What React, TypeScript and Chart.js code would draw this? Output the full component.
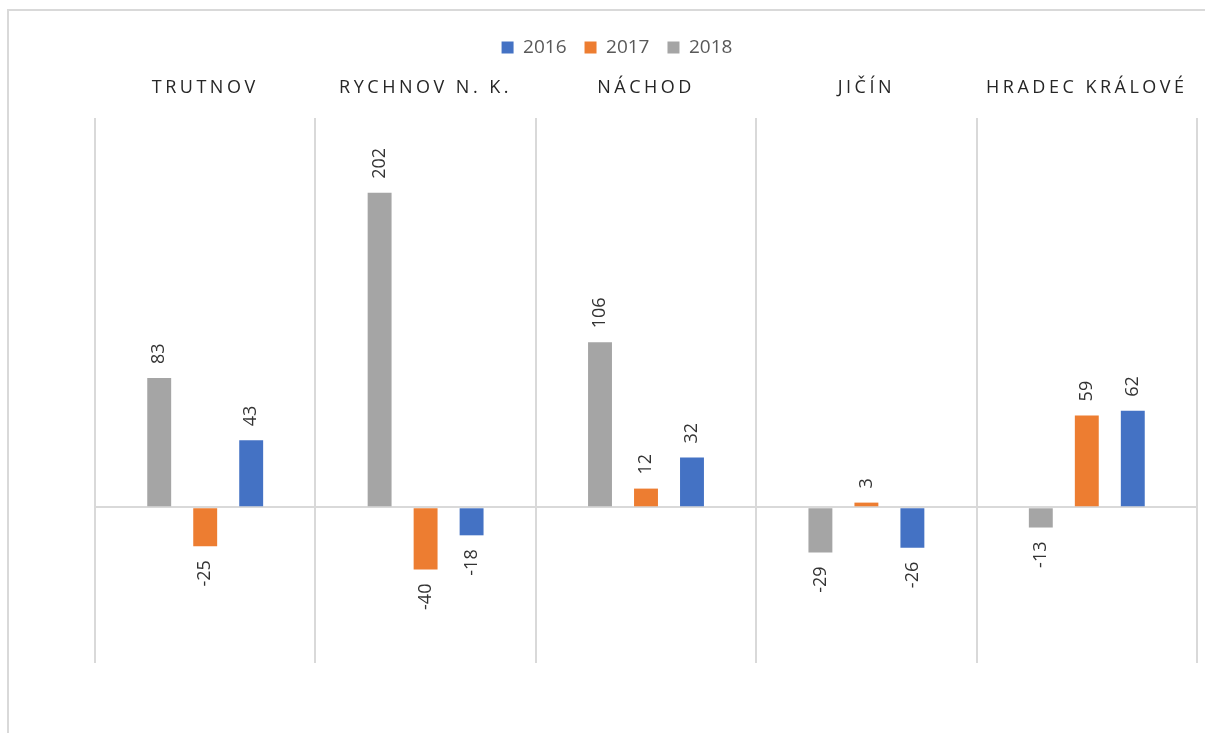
import React, { useEffect, useRef } from "react";
import { Chart, registerables } from "chart.js";

Chart.register(...registerables);

const categories = ["TRUTNOV", "RYCHNOV N. K.", "NÁCHOD", "JIČÍN", "HRADEC KRÁLOVÉ"];
const values2018 = [83, 202, 106, -29, -13];
const values2017 = [-25, -40, 12, 3, 59];
const values2016 = [43, -18, 32, -26, 62];
const yTicksMin = -100;
const yTicksMax = 250;

const FONT = "'Open Sans', 'DejaVu Sans', sans-serif";

const labelPlugin = {
  id: "customLabels",
  afterDatasetsDraw(chart: any) {
    const ctx = chart.ctx;
    ctx.save();
    ctx.font = `18px ${FONT}`;
    ctx.fillStyle = "#333333";
    ctx.textBaseline = "middle";
    chart.data.datasets.forEach((ds: any, di: number) => {
      const meta = chart.getDatasetMeta(di);
      meta.data.forEach((bar: any, i: number) => {
        const v = ds.data[i];
        const p = bar.getProps(["x", "y", "base"], true);
        ctx.save();
        ctx.translate(p.x, p.y);
        ctx.rotate(-Math.PI / 2);
        if (v >= 0) {
          ctx.textAlign = "left";
          ctx.fillText(String(v), 14, 0);
        } else {
          ctx.textAlign = "right";
          ctx.fillText(String(v), -14, 0);
        }
        ctx.restore();
      });
    });
    ctx.restore();
  },
  afterDraw(chart: any) {
    const ctx = chart.ctx;
    const xs = chart.scales.x;
    ctx.save();
    ctx.font = `18px ${FONT}`;
    ctx.fillStyle = "#262626";
    ctx.textAlign = "center";
    ctx.textBaseline = "middle";
    try {
      (ctx as any).letterSpacing = "3.5px";
    } catch (e) {}
    categories.forEach((c, i) => {
      const x = xs.getPixelForValue(i);
      ctx.fillText(c, x, 88);
    });
    ctx.restore();
  },
};

export default function App() {
  const ref = useRef<HTMLCanvasElement | null>(null);
  useEffect(() => {
    if (!ref.current) return;
    const chart = new Chart(ref.current, {
      type: "bar",
      data: {
        labels: categories,
        datasets: [
          { label: "2018", data: values2018, backgroundColor: "#A5A5A5" },
          { label: "2017", data: values2017, backgroundColor: "#ED7D31" },
          { label: "2016", data: values2016, backgroundColor: "#4472C4" },
        ],
      },
      options: {
        animation: false,
        responsive: false,
        maintainAspectRatio: false,
        layout: { padding: { top: 20, right: 8, bottom: 70, left: 0 } },
        datasets: {
          bar: { categoryPercentage: 0.626, barPercentage: 0.52 },
        } as any,
        plugins: {
          legend: {
            position: "top",
            reverse: true,
            labels: {
              boxWidth: 12,
              boxHeight: 12,
              padding: 18,
              color: "#595959",
              font: { family: FONT, size: 19 },
            },
          },
          tooltip: { enabled: false },
        },
        scales: {
          x: {
            position: "top",
            grid: { color: "#d9d9d9", lineWidth: 2, drawTicks: false, offset: true },
            border: { display: false },
            ticks: { display: false },
            afterFit: (s: any) => {
              s.height = 51;
            },
          },
          y: {
            min: yTicksMin,
            max: yTicksMax,
            ticks: { display: false, stepSize: 50 },
            border: { display: false },
            grid: {
              drawTicks: false,
              lineWidth: 2,
              color: (c: any) => (c.tick && c.tick.value === 0 ? "#d9d9d9" : "rgba(0,0,0,0)"),
            },
            afterFit: (s: any) => {
              s.width = 58;
            },
          },
        },
      },
      plugins: [labelPlugin],
    });
    return () => chart.destroy();
  }, []);

  return (
    <div style={{ position: "absolute", left: 0, top: 0, width: 1205, height: 733, overflow: "hidden", background: "#fff" }}>
      <div
        style={{
          position: "absolute",
          left: 7,
          top: 9,
          width: 1240,
          height: 800,
          border: "2px solid #d9d9d9",
          boxSizing: "border-box",
        }}
      />
      <canvas ref={ref} width={1168} height={733} style={{ position: "absolute", left: 37, top: 0, width: 1168, height: 733 }} />
    </div>
  );
}
